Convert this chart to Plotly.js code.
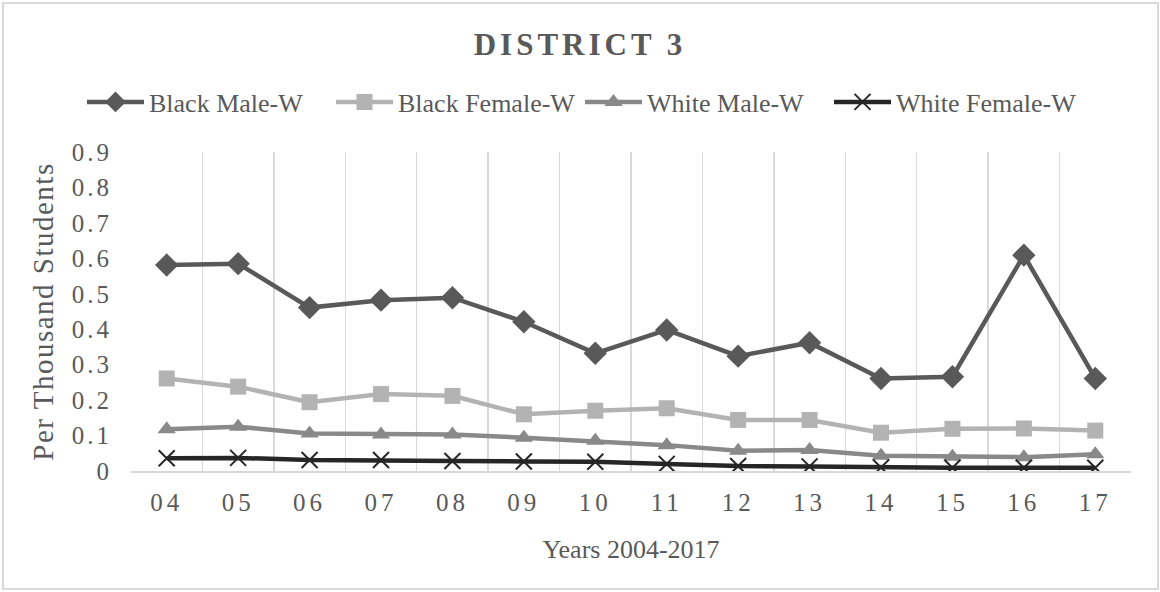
<!DOCTYPE html>
<html>
<head>
<meta charset="utf-8">
<script src="https://cdn.plot.ly/plotly-3.0.1.min.js"></script>
<style>
html, body { margin: 0; padding: 0; background: #fff; }
#wrap { position: relative; width: 1160px; height: 592px; }
#chart { width: 1160px; height: 592px; }
#frame { position: absolute; left: 2px; top: 2px; width: 1157px; height: 588px; box-sizing: border-box; border: 2px solid #d9d9d9; pointer-events: none; }
.gtitle { letter-spacing: 4px; }
.xtick text { letter-spacing: 4px; }
.ytick text { letter-spacing: 3px; }
.ytitle { letter-spacing: 1.5px; }
</style>
</head>
<body>
<div id="wrap"><div id="chart"></div><div id="frame"></div></div>
<script>
const years = ['04','05','06','07','08','09','10','11','12','13','14','15','16','17'];
const blackMale   = [0.581,0.585,0.461,0.482,0.489,0.421,0.332,0.398,0.324,0.362,0.261,0.266,0.609,0.261];
const blackFemale = [0.261,0.238,0.194,0.217,0.212,0.160,0.170,0.177,0.144,0.144,0.108,0.119,0.120,0.114];
const whiteMale   = [0.118,0.125,0.106,0.103,0.103,0.094,0.085,0.073,0.057,0.059,0.043,0.040,0.039,0.047];
const whiteFemale = [0.036,0.037,0.031,0.031,0.028,0.027,0.026,0.020,0.014,0.013,0.010,0.009,0.009,0.009];
const seriesNames = ['Black Male-W','Black Female-W','White Male-W','White Female-W'];

const FONT = 'Liberation Serif, Times New Roman, serif';
const TXT = '#595959';

const traces = [
  {x: years, y: blackMale, name: seriesNames[0], mode: 'lines+markers',
   line: {color: '#595959', width: 4.5}, marker: {symbol: 'diamond', size: 18, color: '#595959'}},
  {x: years, y: blackFemale, name: seriesNames[1], mode: 'lines+markers',
   line: {color: '#b3b3b3', width: 4.5}, marker: {symbol: 'square', size: 16, color: '#b3b3b3'}},
  {x: years, y: whiteMale, name: seriesNames[2], mode: 'lines+markers',
   line: {color: '#898989', width: 4.5}, marker: {symbol: 'triangle-up', size: 16, color: '#898989'}},
  {x: years, y: whiteFemale, name: seriesNames[3], mode: 'lines+markers',
   line: {color: '#262626', width: 4.5}, marker: {symbol: 'x-thin', size: 16, line: {color: '#262626', width: 2}}}
];

const layout = {
  width: 1160, height: 592,
  margin: {l: 131, r: 29, t: 152, b: 121, pad: 0},
  paper_bgcolor: '#ffffff', plot_bgcolor: '#ffffff',
  font: {family: FONT, color: TXT, size: 25},
  title: {text: '<b>DISTRICT 3</b>', font: {family: FONT, size: 31, color: TXT},
          x: 0.5, xanchor: 'center', y: 1 - 44/592, yref: 'container', yanchor: 'middle'},
  showlegend: true,
  legend: {orientation: 'h', x: (82 - 131) / 1000, xanchor: 'left', y: (471 - 102) / 319, yanchor: 'middle',
           itemwidth: 57, entrywidth: 177, entrywidthmode: 'pixels',
           font: {family: FONT, size: 26, color: TXT}, bgcolor: 'rgba(0,0,0,0)', tracegroupgap: 0},
  xaxis: {type: 'category', range: [-0.5, 13.5], tickson: 'boundaries',
          showgrid: true, gridcolor: '#d9d9d9', gridwidth: 1.5,
          showline: true, linecolor: '#d9d9d9', linewidth: 1.5,
          ticks: 'outside', ticklen: 16, tickcolor: 'rgba(0,0,0,0)', ticklabelstandoff: 8,
          tickfont: {family: FONT, size: 25, color: TXT}, zeroline: false, fixedrange: true,
          title: {text: 'Years 2004-2017', font: {family: FONT, size: 26, color: TXT}, standoff: 25}},
  yaxis: {range: [0, 0.9], dtick: 0.1, tick0: 0, showgrid: false, zeroline: false, showline: false,
          ticks: 'outside', ticklen: 13, tickcolor: 'rgba(0,0,0,0)',
          tickfont: {family: FONT, size: 25, color: TXT}, fixedrange: true,
          title: {text: 'Per Thousand Students', font: {family: FONT, size: 29, color: TXT}, standoff: 9}}
};

Plotly.newPlot('chart', traces, layout, {displayModeBar: false, staticPlot: true});
</script>
</body>
</html>
